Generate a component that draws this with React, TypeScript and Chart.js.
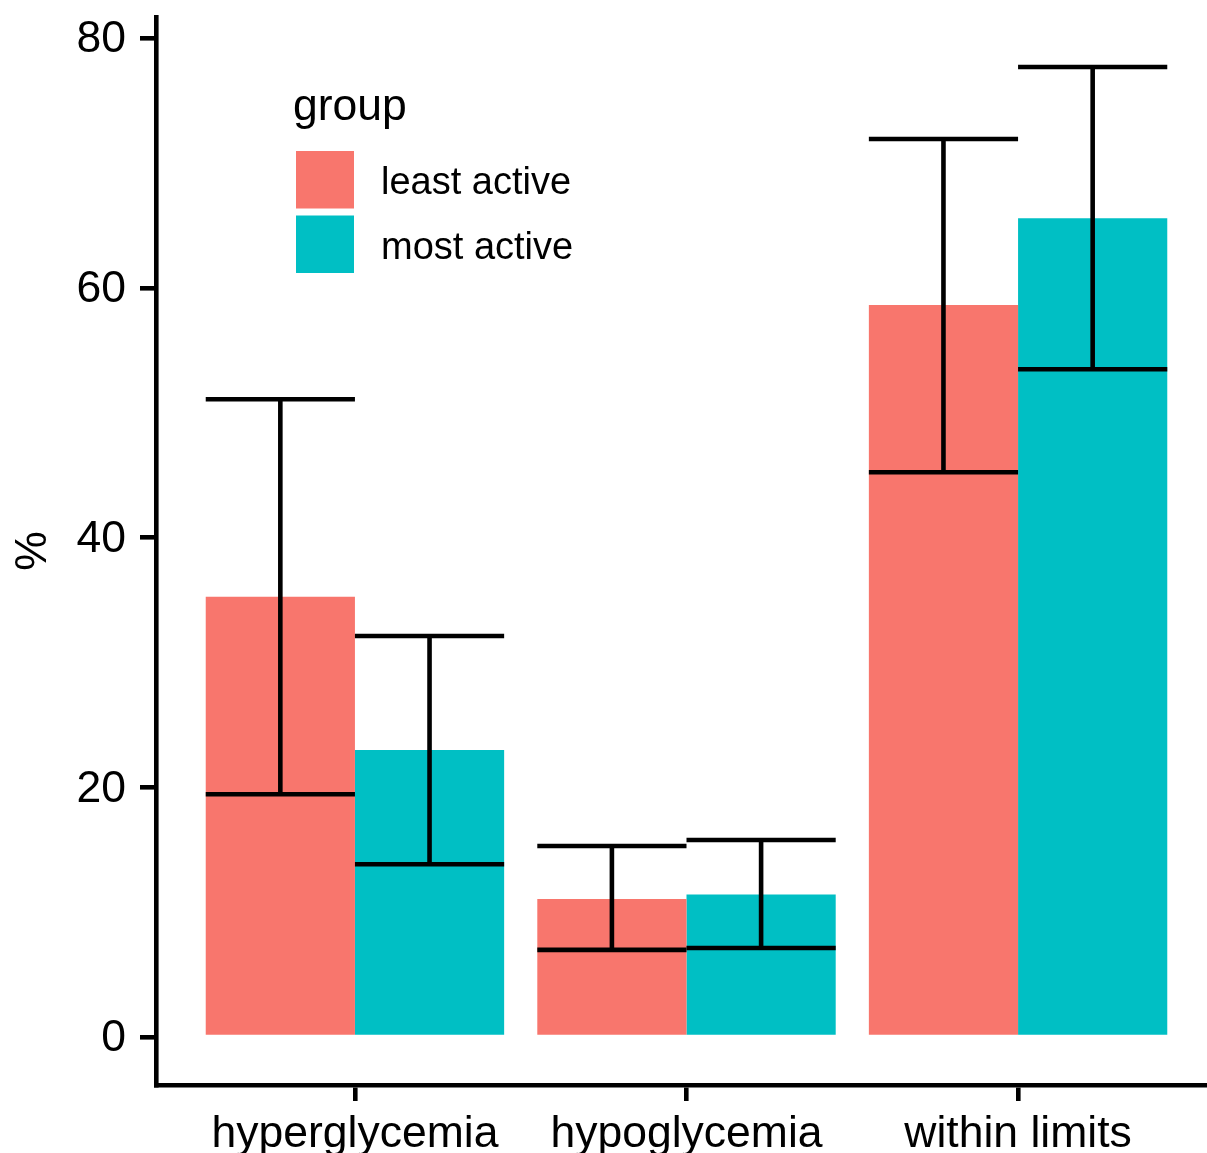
import React, { useEffect, useRef } from "react";
import { Chart, registerables } from "chart.js";

Chart.register(...registerables);

const categories = ["hyperglycemia", "hypoglycemia", "within limits"];
const groups = ["least active", "most active"];
const leastActive = [35.27, 11.05, 58.63];
const mostActive = [22.99, 11.4, 65.58];
const leastLower = [19.44, 6.97, 45.23];
const leastUpper = [51.08, 15.3, 71.93];
const mostLower = [13.83, 7.13, 53.48];
const mostUpper = [32.12, 15.78, 77.7];
const yTicks = [0, 20, 40, 60, 80];
const colors = ["#F8766D", "#00BFC4"];

const FONT = "'Liberation Sans', Arial, Helvetica, sans-serif";
const LW = 4.6;

export default function App() {
  const ref = useRef<HTMLCanvasElement | null>(null);

  useEffect(() => {
    const canvas = ref.current;
    if (!canvas) return;

    const lowers = [leastLower, mostLower];
    const uppers = [leastUpper, mostUpper];

    const errorBars = {
      id: "errorBars",
      afterDatasetsDraw(chart: any) {
        const ctx = chart.ctx;
        const y = chart.scales.y;
        ctx.save();
        ctx.strokeStyle = "#000";
        ctx.lineWidth = LW;
        ctx.lineCap = "butt";
        chart.data.datasets.forEach((_ds: any, di: number) => {
          const meta = chart.getDatasetMeta(di);
          meta.data.forEach((bar: any, i: number) => {
            const cx = bar.x;
            const half = bar.width / 2;
            const yl = y.getPixelForValue(lowers[di][i]);
            const yu = y.getPixelForValue(uppers[di][i]);
            ctx.beginPath();
            ctx.moveTo(cx, yl);
            ctx.lineTo(cx, yu);
            ctx.moveTo(cx - half, yu);
            ctx.lineTo(cx + half, yu);
            ctx.moveTo(cx - half, yl);
            ctx.lineTo(cx + half, yl);
            ctx.stroke();
          });
        });
        ctx.restore();
      },
    };

    const legendPlugin = {
      id: "customLegend",
      afterDraw(chart: any) {
        const ctx = chart.ctx;
        ctx.save();
        ctx.fillStyle = "#000";
        ctx.textAlign = "left";
        ctx.textBaseline = "alphabetic";
        ctx.font = `44.5px ${FONT}`;
        ctx.fillText("group", 293, 120);
        ctx.font = `38px ${FONT}`;
        groups.forEach((g, i) => {
          const top = 151 + i * 64.5;
          ctx.fillStyle = colors[i];
          ctx.fillRect(296, top, 58, 57.5);
          ctx.fillStyle = "#000";
          ctx.fillText(g, 381, top + 28.5 + 14.5);
        });
        ctx.restore();
      },
    };

    const chart = new Chart(canvas, {
      type: "bar",
      data: {
        datasets: [
          {
            label: groups[0],
            data: leastActive.map((v, i) => ({ x: i + 1, y: v })),
            backgroundColor: colors[0],
            borderWidth: 0,
          },
          {
            label: groups[1],
            data: mostActive.map((v, i) => ({ x: i + 1, y: v })),
            backgroundColor: colors[1],
            borderWidth: 0,
          },
        ],
      },
      options: {
        responsive: false,
        animation: false,
        devicePixelRatio: 1,
        categoryPercentage: 0.9,
        barPercentage: 1,
        layout: { padding: { top: 17, right: 13, left: 0, bottom: 0 } },
        plugins: {
          legend: { display: false },
          tooltip: { enabled: false },
        },
        scales: {
          x: {
            type: "linear",
            offset: false,
            min: 0.4,
            max: 3.6,
            afterBuildTicks(scale: any) {
              scale.ticks = categories.map((_c, i) => ({ value: i + 1 }));
            },
            afterFit(scale: any) {
              scale.height = 68;
              scale.paddingLeft = 0;
              scale.paddingRight = 0;
            },
            ticks: {
              autoSkip: false,
              maxRotation: 0,
              padding: 7,
              color: "#000",
              font: { family: FONT, size: 44.5 },
              callback: (v: any) => categories[Number(v) - 1] ?? "",
            },
            grid: {
              display: true,
              offset: false,
              drawOnChartArea: false,
              drawTicks: true,
              tickLength: 16,
              color: "#000",
              lineWidth: LW,
            },
            border: { display: true, color: "#000", width: LW },
          },
          y: {
            type: "linear",
            min: -3.85,
            max: 81.7,
            afterBuildTicks(scale: any) {
              scale.ticks = yTicks.map((v) => ({ value: v }));
            },
            afterFit(scale: any) {
              scale.width = 156;
              scale.paddingTop = 0;
              scale.paddingBottom = 0;
            },
            ticks: {
              padding: 14,
              labelOffset: 2,
              color: "#000",
              font: { family: FONT, size: 44.5 },
              callback: (v: any) => String(v),
            },
            grid: {
              display: true,
              drawOnChartArea: false,
              drawTicks: true,
              tickLength: 16,
              color: "#000",
              lineWidth: LW,
            },
            border: { display: true, color: "#000", width: LW },
            title: {
              display: true,
              text: "%",
              color: "#000",
              font: { family: FONT, size: 44.5 },
              padding: { top: 7, bottom: 0 },
            },
          },
        },
      } as any,
      plugins: [errorBars, legendPlugin],
    });

    return () => chart.destroy();
  }, []);

  return (
    <div
      style={{
        position: "fixed",
        left: 0,
        top: 0,
        width: 1207,
        height: 1153,
        overflow: "hidden",
        background: "#fff",
      }}
    >
      <canvas ref={ref} width={1230} height={1153} style={{ display: "block" }} />
    </div>
  );
}
